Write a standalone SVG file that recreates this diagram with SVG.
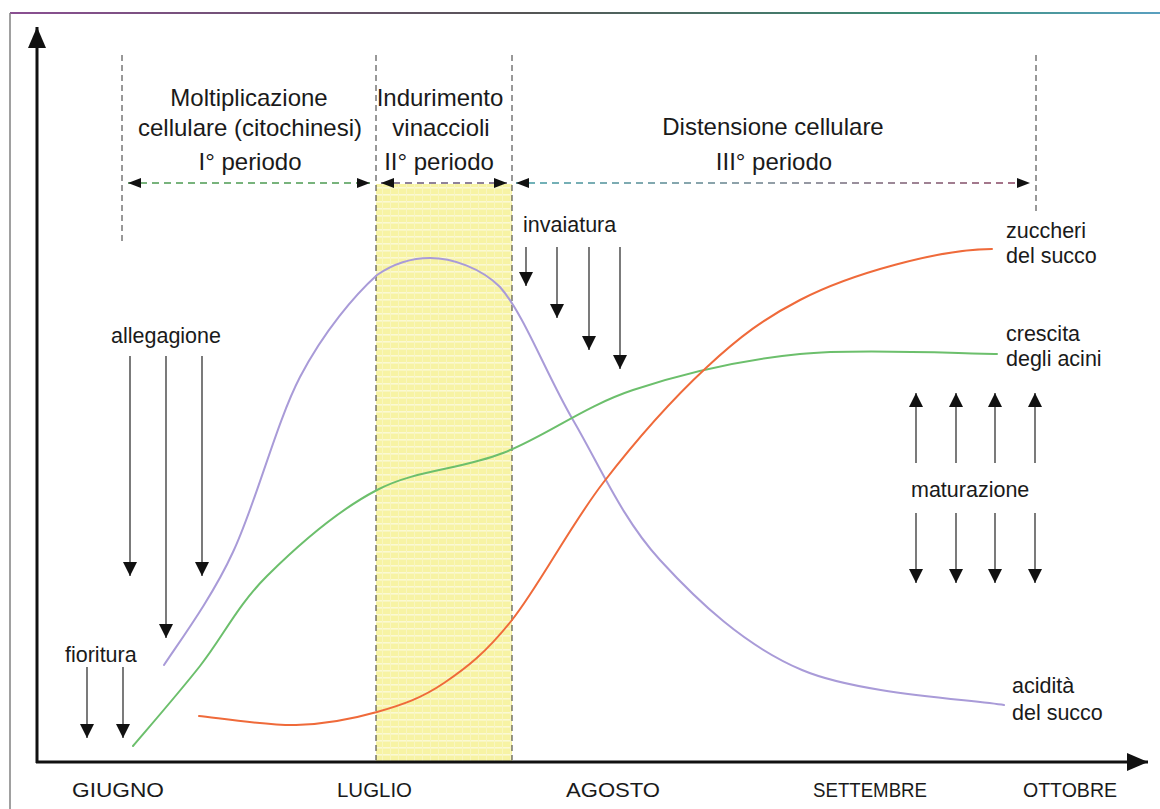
<svg xmlns="http://www.w3.org/2000/svg" width="1160" height="809" viewBox="0 0 1160 809">
<style>
.h{font-family:"Liberation Sans",Arial,sans-serif;font-size:24px;fill:#1a1a1a;text-anchor:middle}
.l{font-family:"Liberation Sans",Arial,sans-serif;font-size:21.5px;fill:#1a1a1a}
.m{font-family:"Liberation Sans",Arial,sans-serif;font-size:21px;fill:#1a1a1a}
.ev{stroke:#222;stroke-width:1.2;fill:none}
.dv{stroke:#333;stroke-width:1;stroke-dasharray:6 4;fill:none}
.ax{stroke:#111;stroke-width:3;fill:none}
.cv{fill:none;stroke-width:2;stroke-linecap:round}
</style>
<defs>
<marker id="ah" markerUnits="userSpaceOnUse" markerWidth="14" markerHeight="14" viewBox="0 0 14 14" refX="14" refY="7" orient="auto">
<path d="M0,0 L14,7 L0,14 z" fill="#111"/>
</marker>
<marker id="ph" markerUnits="userSpaceOnUse" markerWidth="13" markerHeight="10" viewBox="0 0 13 10" refX="13" refY="5" orient="auto-start-reverse">
<path d="M0,0 L13,5 L0,10 z" fill="#111"/>
</marker>
<marker id="axh" markerUnits="userSpaceOnUse" markerWidth="21" markerHeight="18" viewBox="0 0 21 18" refX="21" refY="9" orient="auto">
<path d="M0,0 L21,9 L0,18 z" fill="#111"/>
</marker>
<pattern id="band" patternUnits="userSpaceOnUse" width="8" height="7">
<rect width="8" height="7" fill="#f7f3a4"/>
<rect y="5" width="8" height="1.6" fill="#fbf9d4"/>
<rect x="6" width="1" height="7" fill="#f9f6c0"/>
</pattern>
<linearGradient id="topg" gradientUnits="userSpaceOnUse" x1="10" y1="0" x2="1160" y2="0">
<stop offset="0" stop-color="#8a4f92"/>
<stop offset="0.45" stop-color="#555"/>
<stop offset="0.8" stop-color="#3c8f78"/>
<stop offset="1" stop-color="#5aa0c0"/>
</linearGradient>
<linearGradient id="p3g" gradientUnits="userSpaceOnUse" x1="516" y1="0" x2="1029" y2="0">
<stop offset="0" stop-color="#3e9aa2"/>
<stop offset="0.5" stop-color="#6f7f8a"/>
<stop offset="1" stop-color="#8a3f5e"/>
</linearGradient>
</defs>

<g id="frame">
<line x1="10" y1="13" x2="1160" y2="13" stroke="url(#topg)" stroke-width="2"/>
<line x1="10" y1="13" x2="10" y2="809" stroke="#808080" stroke-width="1.5"/>
</g>

<g id="band-ii">
<rect x="376" y="184" width="136" height="577" fill="url(#band)"/>
</g>

<g id="dividers">
<line class="dv" x1="122" y1="55" x2="122" y2="242"/>
<line class="dv" x1="376" y1="55" x2="376" y2="760"/>
<line class="dv" x1="512" y1="55" x2="512" y2="760"/>
<line class="dv" x1="1036" y1="55" x2="1036" y2="215"/>
</g>

<g id="axes">
<line class="ax" x1="37" y1="763" x2="37" y2="27" marker-end="url(#axh)"/>
<line class="ax" x1="36" y1="762" x2="1148" y2="762" marker-end="url(#axh)"/>
</g>

<g id="curves">
<path id="curve-acidita" class="cv" stroke="#a99bd8" d="M164,665 C177,645 212,598 233,552 C255.7,504 276,423.2 300,377 C324,330.8 355.3,294.7 377,275 C396,262 413,258 430,258 C452,258 481,268 500,287 C523.8,313.8 546.3,374.5 573,420 C599.7,465.5 621.8,518.3 660,560 C698.2,601.7 744.7,645.8 802,670 C859.3,694.2 970.3,699.2 1004,705"/>
<path id="curve-crescita" class="cv" stroke="#6cbf6c" d="M133,746 C144.2,732.7 177.7,694.3 200,666 C222.3,637.7 237.5,605.3 267,576 C296.5,546.7 337.7,510.5 377,490 C416.3,469.5 460.3,469.7 503,453 C545.7,436.3 583.5,406.5 633,390 C682.5,373.5 739.3,360 800,354 C860.7,348 964.2,354 997,354"/>
<path id="curve-zuccheri" class="cv" stroke="#ef6a3a" d="M199,716 C215.2,717.5 266.3,725.7 296,725 C325.7,724.3 352.3,719 377,712 C401.7,705 421.5,698.3 444,683 C466.5,667.7 485.5,653.3 512,620 C538.5,586.7 570.5,525.2 603,483 C635.5,440.8 674.2,397.5 707,367 C739.8,336.5 764.5,318.3 800,300 C850,274 940,249 992,249"/>
</g>

<g id="connectors">
<line x1="128" y1="183" x2="370" y2="183" stroke="#4c9a52" stroke-width="1.3" stroke-dasharray="7 5" marker-start="url(#ph)" marker-end="url(#ph)"/>
<line x1="381" y1="183" x2="507" y2="183" stroke="#6b5a78" stroke-width="1.3" stroke-dasharray="7 5" marker-start="url(#ph)" marker-end="url(#ph)"/>
<line x1="516" y1="183" x2="1030" y2="183" stroke="url(#p3g)" stroke-width="1.3" stroke-dasharray="7 5" marker-start="url(#ph)" marker-end="url(#ph)"/>

<line class="ev" x1="526" y1="247" x2="526" y2="286" marker-end="url(#ah)"/>
<line class="ev" x1="557" y1="247" x2="557" y2="318" marker-end="url(#ah)"/>
<line class="ev" x1="589" y1="247" x2="589" y2="350" marker-end="url(#ah)"/>
<line class="ev" x1="620" y1="247" x2="620" y2="369" marker-end="url(#ah)"/>

<line class="ev" x1="130" y1="356" x2="130" y2="576" marker-end="url(#ah)"/>
<line class="ev" x1="166" y1="356" x2="166" y2="638" marker-end="url(#ah)"/>
<line class="ev" x1="202" y1="356" x2="202" y2="576" marker-end="url(#ah)"/>

<line class="ev" x1="87" y1="667" x2="87" y2="738" marker-end="url(#ah)"/>
<line class="ev" x1="123" y1="667" x2="123" y2="738" marker-end="url(#ah)"/>

<line class="ev" x1="916" y1="463" x2="916" y2="393" marker-end="url(#ah)"/>
<line class="ev" x1="956" y1="463" x2="956" y2="393" marker-end="url(#ah)"/>
<line class="ev" x1="995" y1="463" x2="995" y2="393" marker-end="url(#ah)"/>
<line class="ev" x1="1035" y1="463" x2="1035" y2="393" marker-end="url(#ah)"/>

<line class="ev" x1="916" y1="513" x2="916" y2="583" marker-end="url(#ah)"/>
<line class="ev" x1="956" y1="513" x2="956" y2="583" marker-end="url(#ah)"/>
<line class="ev" x1="995" y1="513" x2="995" y2="583" marker-end="url(#ah)"/>
<line class="ev" x1="1035" y1="513" x2="1035" y2="583" marker-end="url(#ah)"/>
</g>

<g id="period-1">
<text class="h" x="249" y="106">Moltiplicazione</text>
<text class="h" x="250" y="136">cellulare (citochinesi)</text>
<text class="h" x="250" y="170">I° periodo</text>
</g>
<g id="period-2">
<text class="h" x="440" y="106">Indurimento</text>
<text class="h" x="441" y="136">vinaccioli</text>
<text class="h" x="439" y="170">II° periodo</text>
</g>
<g id="period-3">
<text class="h" x="773" y="135">Distensione cellulare</text>
<text class="h" x="774" y="170">III° periodo</text>
</g>

<g id="label-invaiatura"><text class="l" x="523" y="232">invaiatura</text></g>
<g id="label-allegagione"><text class="l" x="111" y="343">allegagione</text></g>
<g id="label-fioritura"><text class="l" x="65" y="662">fioritura</text></g>
<g id="label-zuccheri"><text class="l" x="1006" y="238">zuccheri</text><text class="l" x="1006" y="263">del succo</text></g>
<g id="label-crescita"><text class="l" x="1006" y="341">crescita</text><text class="l" x="1006" y="366">degli acini</text></g>
<g id="label-maturazione"><text class="l" x="911" y="497">maturazione</text></g>
<g id="label-acidita"><text class="l" x="1012" y="693">acidità</text><text class="l" x="1012" y="720">del succo</text></g>

<g id="months">
<text class="m" x="72" y="797" textLength="92" lengthAdjust="spacingAndGlyphs">GIUGNO</text>
<text class="m" x="337" y="797" textLength="75" lengthAdjust="spacingAndGlyphs">LUGLIO</text>
<text class="m" x="566" y="797" textLength="94" lengthAdjust="spacingAndGlyphs">AGOSTO</text>
<text class="m" x="813" y="797" textLength="114" lengthAdjust="spacingAndGlyphs">SETTEMBRE</text>
<text class="m" x="1023" y="797" textLength="94" lengthAdjust="spacingAndGlyphs">OTTOBRE</text>
</g>
</svg>
